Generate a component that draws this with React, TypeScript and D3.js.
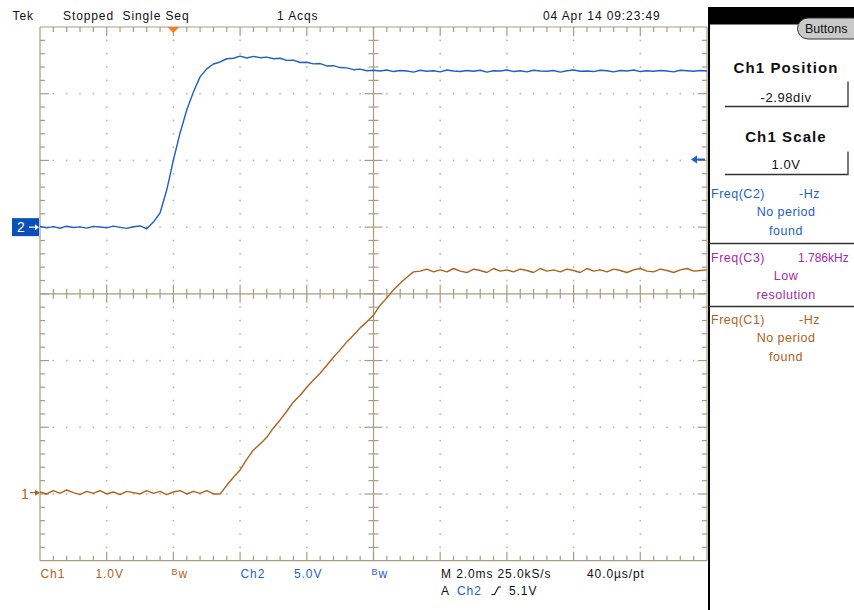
import React from "react";
import * as d3 from "d3";

// ---------- data ----------
const TIME_MS = [
  -4.0, -3.8, -3.6, -3.4, -3.2, -3.0, -2.8, -2.6, -2.4, -2.2,
  -2.0, -1.8, -1.6, -1.4, -1.2, -1.0, -0.8, -0.6, -0.4, -0.2,
  0.0, 0.2, 0.4, 0.6, 0.8, 1.0, 1.2, 1.4, 1.6, 1.8,
  2.0, 2.2, 2.4, 2.6, 2.8, 3.0, 3.2, 3.4, 3.6, 3.8,
  4.0, 4.2, 4.4, 4.6, 4.8, 5.0, 5.2, 5.4, 5.6, 5.8,
  6.0, 6.2, 6.4, 6.6, 6.8, 7.0, 7.2, 7.4, 7.6, 7.8,
  8.0, 8.2, 8.4, 8.6, 8.8, 9.0, 9.2, 9.4, 9.6, 9.8,
  10.0, 10.2, 10.4, 10.6, 10.8, 11.0, 11.2, 11.4, 11.6, 11.8,
  12.0, 12.2, 12.4, 12.6, 12.8, 13.0, 13.2, 13.4, 13.6, 13.8,
  14.0, 14.2, 14.4, 14.6, 14.8, 15.0, 15.2, 15.4, 15.6, 15.8,
  16.0,
];

// Ch2 (blue), volts
const CH2_VOLTS = [
  0.05, -0.06, 0.04, -0.08, 0.07, -0.03, 0.02, -0.07, 0.06, 0.01,
  -0.05, 0.08, -0.02, -0.09, 0.03, 0.09, -0.12, 0.38, 1.06, 2.78,
  5.03, 7.06, 8.78, 10.13, 11.26, 11.86, 12.23, 12.38, 12.62, 12.66,
  12.82, 12.68, 12.8, 12.7, 12.74, 12.62, 12.66, 12.5, 12.52, 12.34,
  12.36, 12.24, 12.26, 12.08, 12.1, 11.96, 11.94, 11.8, 11.84, 11.72,
  11.76, 11.7, 11.78, 11.66, 11.74, 11.7, 11.62, 11.76, 11.68, 11.72,
  11.64, 11.78, 11.7, 11.66, 11.74, 11.68, 11.76, 11.62, 11.72, 11.7,
  11.78, 11.66, 11.72, 11.64, 11.76, 11.7, 11.68, 11.74, 11.62, 11.72,
  11.78, 11.68, 11.7, 11.66, 11.76, 11.72, 11.64, 11.74, 11.7, 11.78,
  11.66, 11.72, 11.68, 11.74, 11.7, 11.64, 11.76, 11.72, 11.68, 11.74,
  11.7,
];

// Ch1 (brown), volts
const CH1_VOLTS = [
  0.01, -0.02, 0.03, -0.01, 0.04, 0.0, -0.03, 0.02, -0.01, 0.03,
  -0.02, 0.01, -0.03, 0.02, 0.0, -0.02, 0.03, -0.01, 0.02, -0.03,
  0.01, 0.03, -0.02, 0.02, -0.01, 0.03, -0.02, -0.02, 0.11, 0.23,
  0.34, 0.5, 0.64, 0.73, 0.83, 0.97, 1.09, 1.22, 1.36, 1.46,
  1.58, 1.69, 1.79, 1.91, 2.03, 2.14, 2.26, 2.36, 2.47, 2.56,
  2.66, 2.81, 2.92, 3.04, 3.14, 3.23, 3.31, 3.32, 3.35, 3.31,
  3.34, 3.31, 3.36, 3.32, 3.3, 3.35, 3.33, 3.3, 3.36, 3.32,
  3.34, 3.31, 3.35, 3.33, 3.3, 3.36, 3.32, 3.34, 3.31, 3.35,
  3.33, 3.3, 3.36, 3.32, 3.34, 3.31, 3.35, 3.33, 3.3, 3.34,
  3.36, 3.32, 3.31, 3.35, 3.33, 3.3, 3.34, 3.36, 3.32, 3.33,
  3.34,
];

const TIME_PER_DIV_MS = 2.0;
const TRIGGER_MS = 0;
const CH1_SCALE_V = 1.0;
const CH2_SCALE_V = 5.0;
const CH1_POSITION_DIV = -2.98;
const CH2_POSITION_DIV = 1.0;
const H_DIVS = 10;
const V_DIVS = 8;
const MINOR_PER_DIV = 5;

const STATUS_LABELS = ["Tek", "Stopped  Single Seq", "1 Acqs", "04 Apr 14 09:23:49"];
const CH1_LABELS = ["Ch1", "1.0V"];
const CH2_LABELS = ["Ch2", "5.0V"];
const TIMEBASE_LABELS = ["M 2.0ms 25.0kS/s", "40.0µs/pt"];
const TRIGGER_LABELS = ["A", "Ch2", "5.1V"];
const MENU_TITLES = ["Ch1 Position", "Ch1 Scale"];
const MENU_VALUES = ["-2.98div", "1.0V"];
const MEAS_HEADERS = ["Freq(C2)", "Freq(C3)", "Freq(C1)"];
const MEAS_VALUES = ["-Hz", "1.786kHz", "-Hz"];
const MEAS_NOTES = [["No period", "found"], ["Low", "resolution"], ["No period", "found"]];

// ---------- styles ----------
const W = 854;
const H = 610;
const GRID = { left: 40, right: 707, top: 27, bottom: 560.7 };
const TAN = "#a79d80";
const DOT = "#b5ad95";
const BLUE = "#1f5fc8";
const BROWN = "#b0621c";
const MAGENTA = "#a52aa5";
const ORANGE = "#ff7b22";
const FONT = "'Liberation Sans', Arial, sans-serif";

export default function App() {
  const divX = d3.scaleLinear().domain([0, H_DIVS]).range([GRID.left, GRID.right]);
  const divY = d3.scaleLinear().domain([0, V_DIVS]).range([GRID.top, GRID.bottom]);

  const tStart = TRIGGER_MS - 2 * TIME_PER_DIV_MS;
  const x = d3
    .scaleLinear()
    .domain([tStart, tStart + H_DIVS * TIME_PER_DIV_MS])
    .range([GRID.left, GRID.right]);

  const yFor = (scale: number, posDiv: number) =>
    d3
      .scaleLinear()
      .domain([(-V_DIVS / 2 - posDiv) * scale, (V_DIVS / 2 - posDiv) * scale])
      .range([GRID.bottom, GRID.top]);
  const y1 = yFor(CH1_SCALE_V, CH1_POSITION_DIV);
  const y2 = yFor(CH2_SCALE_V, CH2_POSITION_DIV);

  const ch1 = d3.zip(TIME_MS, CH1_VOLTS) as [number, number][];
  const ch2 = d3.zip(TIME_MS, CH2_VOLTS) as [number, number][];
  const line1 = d3.line<[number, number]>().x((d) => x(d[0])).y((d) => y1(d[1]));
  const line2 = d3.line<[number, number]>().x((d) => x(d[0])).y((d) => y2(d[1]));

  const cx = divX(H_DIVS / 2);
  const cy = divY(V_DIVS / 2);

  const hMinor = d3.range(1, H_DIVS * MINOR_PER_DIV).map((i) => i / MINOR_PER_DIV);
  const vMinor = d3.range(1, V_DIVS * MINOR_PER_DIV).map((i) => i / MINOR_PER_DIV);
  const isMajor = (v: number) => Math.abs(v - Math.round(v)) < 1e-6;

  const ticks: React.ReactNode[] = [];
  hMinor.forEach((d, i) => {
    const px = divX(d);
    const len = isMajor(d) ? 9 : 5;
    ticks.push(<line key={`t${i}`} x1={px} x2={px} y1={GRID.top} y2={GRID.top + len} />);
    ticks.push(<line key={`b${i}`} x1={px} x2={px} y1={GRID.bottom} y2={GRID.bottom - len} />);
    ticks.push(<line key={`hc${i}`} x1={px} x2={px} y1={cy - len} y2={cy + len} />);
  });
  vMinor.forEach((d, i) => {
    const py = divY(d);
    const len = isMajor(d) ? 9 : 5;
    ticks.push(<line key={`l${i}`} x1={GRID.left} x2={GRID.left + len} y1={py} y2={py} />);
    ticks.push(<line key={`r${i}`} x1={GRID.right} x2={GRID.right - len} y1={py} y2={py} />);
    ticks.push(<line key={`vc${i}`} x1={cx - len} x2={cx + len} y1={py} y2={py} />);
  });

  const dots: React.ReactNode[] = [];
  d3.range(1, H_DIVS).forEach((gx) => {
    if (gx === H_DIVS / 2) return;
    vMinor.forEach((d, j) => {
      dots.push(<rect key={`dv${gx}-${j}`} x={divX(gx) - 0.75} y={divY(d) - 0.75} width={1.5} height={1.5} />);
    });
  });
  d3.range(1, V_DIVS).forEach((gy) => {
    if (gy === V_DIVS / 2) return;
    hMinor.forEach((d, j) => {
      if (isMajor(d)) return;
      dots.push(<rect key={`dh${gy}-${j}`} x={divX(d) - 0.75} y={divY(gy) - 0.75} width={1.5} height={1.5} />);
    });
  });

  const ch1Ground = y1(0);
  const ch2Ground = y2(0);
  const trigX = x(TRIGGER_MS);
  const panelC = 786;

  const txt = { fontFamily: FONT, fontSize: 12, letterSpacing: 0.9 } as const;

  return (
    <svg
      width={W}
      height={H}
      style={{ position: "absolute", left: 0, top: 0, background: "#fff" }}
      xmlns="http://www.w3.org/2000/svg"
    >
      <defs>
        <clipPath id="gridClip">
          <rect x={GRID.left} y={GRID.top} width={GRID.right - GRID.left} height={GRID.bottom - GRID.top} />
        </clipPath>
      </defs>
      <rect x={0} y={0} width={W} height={H} fill="#fff" />

      {/* graticule */}
      <g fill={DOT}>{dots}</g>
      <g stroke={TAN} strokeWidth={1.2}>
        <line x1={GRID.left} x2={GRID.right} y1={GRID.top} y2={GRID.top} />
        <line x1={GRID.left} x2={GRID.right} y1={GRID.bottom} y2={GRID.bottom} />
        <line x1={GRID.left} x2={GRID.left} y1={GRID.top} y2={GRID.bottom} />
        <line x1={GRID.right} x2={GRID.right} y1={GRID.top} y2={GRID.bottom} />
        <line x1={GRID.left} x2={GRID.right} y1={cy} y2={cy} />
        <line x1={cx} x2={cx} y1={GRID.top} y2={GRID.bottom} />
        {ticks}
      </g>

      {/* traces */}
      <g clipPath="url(#gridClip)" fill="none" strokeWidth={1.4} strokeLinejoin="round">
        <path d={line2(ch2) || ""} stroke={BLUE} />
        <path d={line1(ch1) || ""} stroke={BROWN} />
      </g>

      {/* trigger position marker */}
      <path d={`M${trigX - 6},${GRID.top} L${trigX + 6},${GRID.top} L${trigX},${GRID.top + 6} Z`} fill={ORANGE} />
      {/* trigger level arrow (right) */}
      <path d={`M691,${159.5} L697,${155.5} L697,${163.5} Z`} fill={BLUE} />
      <line x1={696} x2={705} y1={159.5} y2={159.5} stroke={BLUE} strokeWidth={2} />

      {/* channel ground markers */}
      <rect x={12} y={ch2Ground - 9} width={27} height={18} fill="#0a50b8" />
      <text x={17} y={ch2Ground + 5} fill="#fff" fontFamily={FONT} fontSize={14}>2</text>
      <line x1={29} x2={37} y1={ch2Ground} y2={ch2Ground} stroke="#fff" strokeWidth={1.2} />
      <path d={`M39,${ch2Ground} L35,${ch2Ground - 3} L35,${ch2Ground + 3} Z`} fill="#fff" />

      <text x={21} y={ch1Ground + 6} fill={BROWN} fontFamily={FONT} fontSize={14}>1</text>
      <line x1={30} x2={37} y1={ch1Ground} y2={ch1Ground} stroke={BROWN} strokeWidth={1.2} />
      <path d={`M40,${ch1Ground} L35,${ch1Ground - 3} L35,${ch1Ground + 3} Z`} fill={BROWN} />

      {/* top status line */}
      <g {...txt} fill="#111">
        <text x={12.5} y={20}>{STATUS_LABELS[0]}</text>
        <text x={63} y={20} style={{ whiteSpace: "pre" }}>{STATUS_LABELS[1]}</text>
        <text x={277} y={20}>{STATUS_LABELS[2]}</text>
        <text x={543} y={20}>{STATUS_LABELS[3]}</text>
      </g>

      {/* bottom readouts */}
      <g {...txt}>
        <text x={40.5} y={578} fill={BROWN}>{CH1_LABELS[0]}</text>
        <text x={95.5} y={578} fill={BROWN}>{CH1_LABELS[1]}</text>
        <text x={171.5} y={578} fill={BROWN}>
          <tspan fontSize={9} dy={-3}>B</tspan>
          <tspan dy={3}>w</tspan>
        </text>
        <text x={240.5} y={578} fill={BLUE}>{CH2_LABELS[0]}</text>
        <text x={294} y={578} fill={BLUE}>{CH2_LABELS[1]}</text>
        <text x={371.5} y={578} fill={BLUE}>
          <tspan fontSize={9} dy={-3}>B</tspan>
          <tspan dy={3}>w</tspan>
        </text>
        <text x={441} y={578} fill="#111">{TIMEBASE_LABELS[0]}</text>
        <text x={587} y={578} fill="#111">{TIMEBASE_LABELS[1]}</text>
        <text x={441} y={595} fill="#111">{TRIGGER_LABELS[0]}</text>
        <text x={457} y={595} fill={BLUE}>{TRIGGER_LABELS[1]}</text>
        <text x={509} y={595} fill="#111">{TRIGGER_LABELS[2]}</text>
      </g>
      <path d="M491.5,594.5 L494.5,594.5 L498.5,587 L501,587" fill="none" stroke="#111" strokeWidth={1.1} />

      {/* right menu panel */}
      <rect x={709} y={7} width={145} height={17.5} fill="#000" />
      <line x1={709} x2={709} y1={7} y2={H} stroke="#000" strokeWidth={2} />
      <rect x={797.5} y={18} width={66} height={21} rx={10.5} fill="#c9c9c9" stroke="#333" strokeWidth={1} />
      <text x={805} y={33} fontFamily={FONT} fontSize={12.5} fill="#111">Buttons</text>

      <g fontFamily={FONT} fontWeight="bold" fontSize={15} letterSpacing={1.1} fill="#111" textAnchor="middle">
        <text x={panelC} y={73}>{MENU_TITLES[0]}</text>
        <text x={panelC} y={142}>{MENU_TITLES[1]}</text>
      </g>
      <g fontFamily={FONT} fontSize={13} letterSpacing={0.6} fill="#111" textAnchor="middle">
        <text x={panelC} y={102}>{MENU_VALUES[0]}</text>
        <text x={panelC} y={169}>{MENU_VALUES[1]}</text>
      </g>
      <g stroke="#333" strokeWidth={1.3} fill="none">
        <path d="M725,106.5 L848,106.5 L848,81.5" />
        <path d="M725,174.5 L848,174.5 L848,151.5" />
      </g>

      {/* measurement readouts */}
      <g stroke="#333" strokeWidth={1.5}>
        <line x1={709} x2={W} y1={243.5} y2={243.5} />
        <line x1={709} x2={W} y1={306.5} y2={306.5} />
      </g>
      {[BLUE, MAGENTA, BROWN].map((col, i) => {
        const base = [198, 261.5, 323.5][i];
        const valueX = i === 1 ? 798 : 799;
        return (
          <g key={i} fontFamily={FONT} fontSize={12.5} letterSpacing={0.5} fill={col}>
            <text x={711} y={base}>{MEAS_HEADERS[i]}</text>
            <text x={valueX} y={base} letterSpacing={i === 1 ? 0 : 0.5} fontSize={i === 1 ? 12 : 12.5}>
              {MEAS_VALUES[i]}
            </text>
            <text x={panelC} y={base + 18} textAnchor="middle">{MEAS_NOTES[i][0]}</text>
            <text x={panelC} y={base + 37} textAnchor="middle">{MEAS_NOTES[i][1]}</text>
          </g>
        );
      })}
    </svg>
  );
}
